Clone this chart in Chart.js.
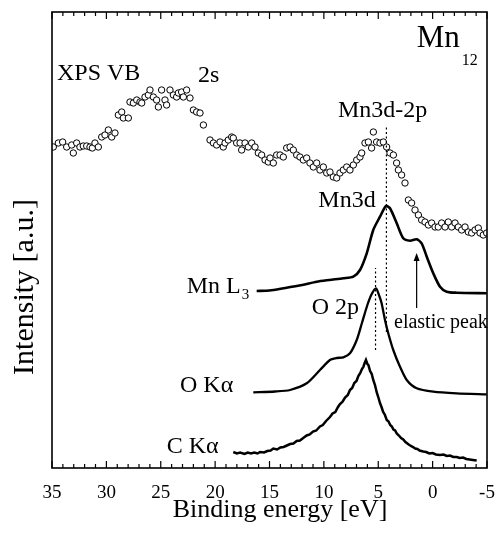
<!DOCTYPE html>
<html><head><meta charset="utf-8">
<script src="https://cdn.jsdelivr.net/npm/chart.js@4.4.1/dist/chart.umd.min.js"></script>
<style>html,body{margin:0;padding:0;background:#fff;}canvas{display:block;}</style>
</head><body>
<canvas id="c" width="498" height="533"></canvas>
<script>
// ---- data (x: binding energy in eV, y: intensity in arbitrary units) ----
const xTickLabels = [35, 30, 25, 20, 15, 10, 5, 0, -5];

const xpsVB = [
 [34.88,321],[34.42,325],[34.02,326],[33.65,321],[33.19,323],[33.04,315],[32.73,325],[32.43,321],[32.12,322],[31.81,322],
 [31.51,321],[31.29,320],[31.05,325],[30.74,321],[30.43,331],[30.13,333],[29.82,338],[29.51,331],[29.21,335],[28.90,353],
 [28.59,356],[28.44,350],[27.98,350],[27.83,366],[27.52,365],[27.21,368],[26.91,366],[26.75,365],[26.45,371],[26.14,373],
 [25.99,378],[25.68,371],[25.38,368],[25.22,361],[24.92,378],[24.61,368],[24.46,363],[24.15,378],[23.84,373],[23.54,371],
 [23.38,375],[23.08,376],[22.92,371],[22.62,378],[22.31,370],[22.00,358],[21.70,356],[21.39,355],[21.08,343],[20.47,328],
 [20.16,325],[19.86,323],[19.55,326],[19.25,321],[19.09,325],[18.79,328],[18.48,331],[18.33,330],[18.02,325],[17.71,325],
 [17.56,318],[17.25,325],[16.95,321],[16.64,325],[16.33,321],[16.03,315],[15.72,313],[15.41,308],[15.11,306],[14.95,310],
 [14.65,305],[14.34,313],[14.03,313],[13.73,311],[13.42,320],[13.11,321],[12.81,318],[12.50,313],[12.20,311],[11.89,308],
 [11.58,310],[11.28,305],[10.97,301],[10.66,305],[10.36,298],[10.05,301],[9.74,295],[9.44,296],[9.13,291],[8.82,290],
 [8.52,295],[8.21,298],[7.90,301],[7.60,298],[7.29,303],[6.98,308],[6.68,311],[6.52,315],[6.22,325],[5.91,326],
 [5.61,320],[5.45,336],[5.15,326],[4.84,325],[4.53,326],[4.23,321],[3.92,315],[3.61,313],[3.31,305],[3.15,298],
 [2.85,293],[2.54,285],[2.23,268],[1.93,265],[1.62,258],[1.31,253],[1.01,248],[0.70,246],[0.39,243],[0.09,245],
 [-0.22,241],[-0.52,241],[-0.83,245],[-1.14,241],[-1.44,246],[-1.75,241],[-2.06,245],[-2.36,241],[-2.67,238],[-2.98,241],
 [-3.28,236],[-3.59,235],[-3.90,238],[-4.20,240],[-4.36,235],[-4.66,233],[-4.97,235]
];

const mnL3 = [
 [16.18,177],[15.0,177.5],[13.73,179.7],[12.0,183],[10.66,186.3],[9.5,188],[8.21,189.7],[7.29,191.3],[6.68,198],
 [6.06,214.7],[5.46,238],[4.84,251.3],[4.29,262],[3.92,259.7],[3.30,244.7],[2.70,229.7],[2.08,227.3],[1.47,228.7],
 [1.01,224.7],[0.54,211.3],[-0.06,194.7],[-0.68,181.3],[-1.29,176.3],[-2.21,175.3],[-4.97,174.7]
];

const oKalpha = [
 [16.49,75.7],[14.5,76.5],[13.11,78],[11.58,84.7],[10.36,98],[9.44,108],[8.8,110],[8.21,110.7],[7.60,114.7],
 [6.98,128],[6.5,145],[6.0,163],[5.6,174],[5.21,179.7],[4.9,172],[4.69,164.7],[4.38,148],[4.08,134.7],[3.62,118],
 [3.0,101.3],[2.38,88],[1.47,79.7],[-0.06,76.3],[-2.21,74.7],[-4.97,73.7]
];

const cKalpha = [
 [18.33,16],[18.0,14.5],[17.7,15.5],[17.3,14],[17.0,15.5],[16.7,14.5],[16.4,15.5],[16.1,14.5],[15.87,16],[15.5,15.5],
 [15.2,17],[14.9,17.5],[14.65,19.5],[14.3,18.5],[14.0,20.5],[13.7,21],[13.4,22.5],[13.11,24],[12.8,24.5],[12.5,27],
 [12.2,27.5],[11.9,30],[11.58,32.5],[11.3,33.5],[11.0,36.5],[10.7,37.5],[10.36,41.5],[10.1,43],[9.8,47],[9.44,51],
 [9.2,54.5],[8.95,56],[8.7,61],[8.52,64],[8.3,66],[8.05,70.5],[7.8,73],[7.6,78],[7.4,80],[7.2,85],
 [7.0,87],[6.83,92],[6.65,95],[6.5,99],[6.37,101],[6.25,105],[6.13,108],[6.0,104],[5.91,103],[5.75,97],
 [5.6,94],[5.46,88],[5.3,83],[5.15,76],[5.0,71],[4.84,65],[4.7,61],[4.55,56],[4.4,53.5],[4.22,48],
 [4.05,46.5],[3.9,43],[3.75,41.5],[3.6,38.5],[3.45,37.5],[3.3,34.5],[3.1,32.5],[2.9,30],[2.7,28.5],[2.5,26],
 [2.38,25],[2.2,23.5],[2.0,22],[1.8,21],[1.6,19.5],[1.4,19],[1.2,17.5],[0.86,16.5],[0.6,16],[0.3,14.5],
 [0.0,15],[-0.3,13.5],[-0.68,13],[-1.0,13.5],[-1.3,12],[-1.6,12.5],[-1.9,11],[-2.21,11],[-2.5,10],[-2.8,10.5],
 [-3.1,9],[-3.4,8.5],[-3.7,8],[-4.05,7.5]
];

// dotted guide lines (energy, intensity from, intensity to)
const guideLines = [[4.25, 136, 342], [5.25, 118, 200]];
// arrow to elastic peak (energy, intensity from, intensity to)
const elasticArrow = [1.47, 160, 215];
// text annotations (text, energy at left edge, intensity at baseline, kind)
const annotations = [
 ['XPS VB', 34.54, 388, 'big'],
 ['2s', 21.57, 386, 'big'],
 ['Mn3d-2p', 8.70, 351, 'big'],
 ['Mn3d', 10.51, 261, 'big'],
 ['Mn L', 22.61, 175, 'big'],
 ['3', 17.56, 169, 'sub'],
 ['O 2p', 11.12, 154, 'big'],
 ['elastic peak', 3.55, 140, 'small'],
 ['O K\u03b1', 23.23, 76, 'big'],
 ['C K\u03b1', 24.45, 15, 'big'],
 ['Mn', 1.47, 421, 'title'],
 ['12', -2.67, 403, 'titlesub']
];
const xTitle = 'Binding energy [eV]';
const yTitle = 'Intensity [a.u.]';

// ---- drawing ----
const FONT = "'Liberation Serif','Times New Roman',Times,serif";
const SIZES = {big: 24, sub: 15, small: 20, title: 31, titlesub: 16};
const pts = arr => arr.map(p => ({x: p[0], y: p[1]}));

const decor = {
  id: 'decor',
  afterDraw(chart) {
    const {ctx, chartArea: a, scales: {x, y}} = chart;
    ctx.save();
    ctx.strokeStyle = '#000';
    ctx.fillStyle = '#000';
    // frame
    ctx.lineWidth = 1.6;
    ctx.strokeRect(a.left, a.top, a.right - a.left, a.bottom - a.top);
    // inward ticks top and bottom (major every 5, minor every 1)
    ctx.lineWidth = 1.2;
    for (let v = x.min; v <= x.max; v += 1) {
      const px = x.getPixelForValue(v);
      const L = (v % 5 === 0) ? 7 : 4;
      ctx.beginPath();
      ctx.moveTo(px, a.bottom); ctx.lineTo(px, a.bottom - L);
      ctx.moveTo(px, a.top); ctx.lineTo(px, a.top + L);
      ctx.stroke();
    }
    // dotted guides
    ctx.setLineDash([2, 2.5]);
    ctx.lineWidth = 1.2;
    guideLines.forEach(g => {
      const px = x.getPixelForValue(g[0]);
      ctx.beginPath();
      ctx.moveTo(px, y.getPixelForValue(g[1]));
      ctx.lineTo(px, y.getPixelForValue(g[2]));
      ctx.stroke();
    });
    ctx.setLineDash([]);
    // arrow
    {
      const px = x.getPixelForValue(elasticArrow[0]);
      const yb = y.getPixelForValue(elasticArrow[1]);
      const yt = y.getPixelForValue(elasticArrow[2]);
      ctx.lineWidth = 1.2;
      ctx.beginPath(); ctx.moveTo(px, yb); ctx.lineTo(px, yt + 6); ctx.stroke();
      ctx.beginPath(); ctx.moveTo(px, yt); ctx.lineTo(px - 3, yt + 8); ctx.lineTo(px + 3, yt + 8); ctx.closePath(); ctx.fill();
    }
    // annotations
    ctx.textAlign = 'left';
    ctx.textBaseline = 'alphabetic';
    annotations.forEach(t => {
      ctx.font = SIZES[t[3]] + 'px ' + FONT;
      ctx.fillText(t[0], x.getPixelForValue(t[1]), y.getPixelForValue(t[2]));
    });
    // x axis title
    ctx.textAlign = 'center';
    ctx.textBaseline = 'middle';
    ctx.font = '26px ' + FONT;
    ctx.fillText(xTitle, 280, 510);
    // y axis title
    ctx.translate(25, 287);
    ctx.rotate(-Math.PI / 2);
    ctx.font = '30px ' + FONT;
    ctx.fillText(yTitle, 0, 0);
    ctx.restore();
  }
};

new Chart(document.getElementById('c'), {
  type: 'scatter',
  data: {
    datasets: [
      {label: 'XPS VB', data: pts(xpsVB), showLine: false, pointRadius: 3.2, pointBorderWidth: 1,
       pointBackgroundColor: '#fff', pointBorderColor: '#000'},
      {label: 'Mn L3', data: pts(mnL3), showLine: true, pointRadius: 0, borderColor: '#000', borderWidth: 2.6, tension: 0.25},
      {label: 'O Ka', data: pts(oKalpha), showLine: true, pointRadius: 0, borderColor: '#000', borderWidth: 2.3, tension: 0.25},
      {label: 'C Ka', data: pts(cKalpha), showLine: true, pointRadius: 0, borderColor: '#000', borderWidth: 2.5, tension: 0}
    ]
  },
  options: {
    responsive: false, animation: false, devicePixelRatio: 1,
    layout: {padding: {top: 12, right: 11, left: 0, bottom: 0}},
    plugins: {legend: {display: false}, tooltip: {enabled: false}},
    scales: {
      x: {
        type: 'linear', reverse: true, min: -5, max: 35,
        afterFit: s => { s.height = 65; s.paddingLeft = 0; s.paddingRight = 0; },
        afterBuildTicks: s => { s.ticks = xTickLabels.map(v => ({value: v})); },
        ticks: {font: {family: FONT, size: 19}, color: '#000', padding: 6, maxRotation: 0, autoSkip: false},
        grid: {display: false}, border: {display: false},
        title: {display: false}
      },
      y: {
        type: 'linear', min: 0, max: 456,
        afterFit: s => { s.width = 52; s.paddingTop = 0; s.paddingBottom = 0; },
        ticks: {display: false}, grid: {display: false}, border: {display: false}
      }
    }
  },
  plugins: [decor]
});
</script>
</body></html>
